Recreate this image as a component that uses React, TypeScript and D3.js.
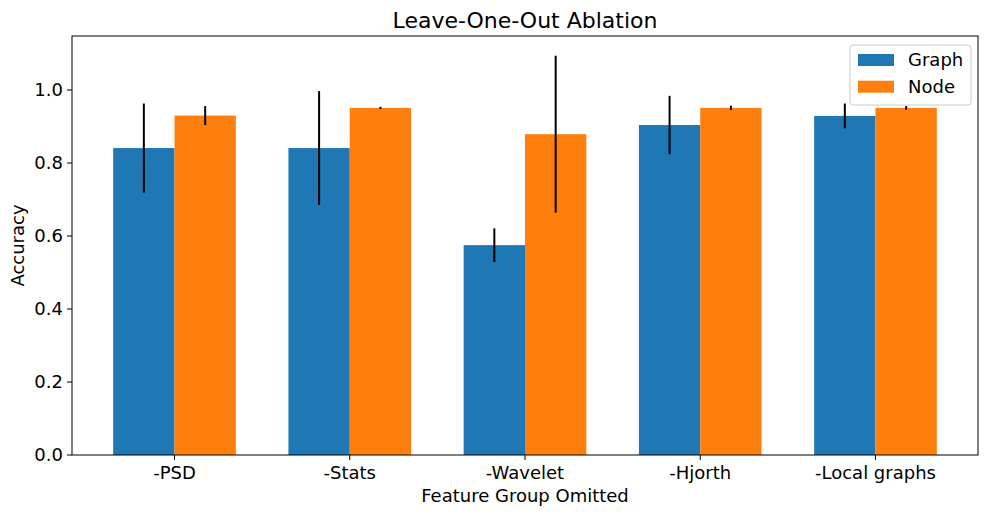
import React, { useRef, useEffect } from 'react';
import * as d3 from 'd3';

const categories = ['-PSD', '-Stats', '-Wavelet', '-Hjorth', '-Local graphs'];
const graphMean = [0.841, 0.841, 0.575, 0.904, 0.929];
const graphErr = [0.122, 0.156, 0.046, 0.08, 0.034];
const nodeMean = [0.93, 0.951, 0.879, 0.951, 0.951];
const nodeErr = [0.026, 0.003, 0.215, 0.006, 0.005];
const yTicks = [0, 0.2, 0.4, 0.6, 0.8, 1.0];

const App: React.FC = () => {
  const svgRef = useRef<SVGSVGElement | null>(null);

  useEffect(() => {
    if (!svgRef.current) return;
    d3.select(svgRef.current).selectAll('*').remove();

    const width = 989;
    const height = 516;
    const m = { left: 72, right: 11, top: 36, bottom: 61 };
    const font = 'DejaVu Sans, sans-serif';
    const fs = 18;

    const svg = d3.select(svgRef.current).attr('width', width).attr('height', height);

    const barW = 0.35;
    const x = d3
      .scaleLinear()
      .domain([-0.35 - 0.235, 4.35 + 0.235])
      .range([m.left, width - m.right]);
    const y = d3.scaleLinear().domain([0, 1.148]).range([height - m.bottom, m.top]);

    const series = [
      { name: 'Graph', mean: graphMean, err: graphErr, color: '#1f77b4', off: -barW / 2 },
      { name: 'Node', mean: nodeMean, err: nodeErr, color: '#ff7f0e', off: barW / 2 },
    ];

    // bars
    series.forEach((s) => {
      svg
        .append('g')
        .selectAll('rect')
        .data(s.mean)
        .join('rect')
        .attr('x', (_, i) => x(i + s.off - barW / 2))
        .attr('width', x(barW) - x(0))
        .attr('y', (d) => y(d))
        .attr('height', (d) => y(0) - y(d))
        .attr('fill', s.color);
    });

    // error bars
    series.forEach((s) => {
      svg
        .append('g')
        .selectAll('line')
        .data(s.mean)
        .join('line')
        .attr('x1', (_, i) => x(i + s.off))
        .attr('x2', (_, i) => x(i + s.off))
        .attr('y1', (d, i) => y(d - s.err[i]))
        .attr('y2', (d, i) => y(d + s.err[i]))
        .attr('stroke', 'black')
        .attr('stroke-width', 2);
    });

    // axes frame
    svg
      .append('rect')
      .attr('x', m.left)
      .attr('y', m.top)
      .attr('width', width - m.right - m.left)
      .attr('height', height - m.bottom - m.top)
      .attr('fill', 'none')
      .attr('stroke', 'black')
      .attr('stroke-width', 1);

    // x ticks
    const xg = svg.append('g');
    categories.forEach((c, i) => {
      xg.append('line')
        .attr('x1', x(i))
        .attr('x2', x(i))
        .attr('y1', y(0))
        .attr('y2', y(0) + 5)
        .attr('stroke', 'black');
      xg.append('text')
        .attr('x', x(i))
        .attr('y', y(0) + 24)
        .attr('text-anchor', 'middle')
        .attr('font-family', font)
        .attr('font-size', fs)
        .text(c);
    });

    // y ticks
    const yg = svg.append('g');
    yTicks.forEach((t) => {
      yg.append('line')
        .attr('x1', m.left - 5)
        .attr('x2', m.left)
        .attr('y1', y(t))
        .attr('y2', y(t))
        .attr('stroke', 'black');
      yg.append('text')
        .attr('x', m.left - 9)
        .attr('y', y(t))
        .attr('dy', '0.35em')
        .attr('text-anchor', 'end')
        .attr('font-family', font)
        .attr('font-size', fs)
        .text(d3.format('.1f')(t));
    });

    // labels
    svg
      .append('text')
      .attr('x', (m.left + width - m.right) / 2)
      .attr('y', 28)
      .attr('text-anchor', 'middle')
      .attr('font-family', font)
      .attr('font-size', 22)
      .text('Leave-One-Out Ablation');

    svg
      .append('text')
      .attr('x', (m.left + width - m.right) / 2)
      .attr('y', 502)
      .attr('text-anchor', 'middle')
      .attr('font-family', font)
      .attr('font-size', fs)
      .text('Feature Group Omitted');

    svg
      .append('text')
      .attr('transform', `translate(24, ${(m.top + height - m.bottom) / 2}) rotate(-90)`)
      .attr('text-anchor', 'middle')
      .attr('font-family', font)
      .attr('font-size', fs)
      .text('Accuracy');

    // legend
    const lg = svg.append('g');
    lg.append('rect')
      .attr('x', 850)
      .attr('y', 45)
      .attr('width', 121)
      .attr('height', 60)
      .attr('rx', 3)
      .attr('fill', 'white')
      .attr('fill-opacity', 0.8)
      .attr('stroke', '#cccccc');
    series.forEach((s, i) => {
      lg.append('rect')
        .attr('x', 858)
        .attr('y', 54 + i * 26.7)
        .attr('width', 36)
        .attr('height', 12)
        .attr('fill', s.color);
      lg.append('text')
        .attr('x', 908)
        .attr('y', 60 + i * 26.7)
        .attr('dy', '0.35em')
        .attr('font-family', font)
        .attr('font-size', fs)
        .text(s.name);
    });
  }, []);

  return (
    <div style={{ position: 'absolute', left: 0, top: 0 }}>
      <svg ref={svgRef}></svg>
    </div>
  );
};

export default App;
